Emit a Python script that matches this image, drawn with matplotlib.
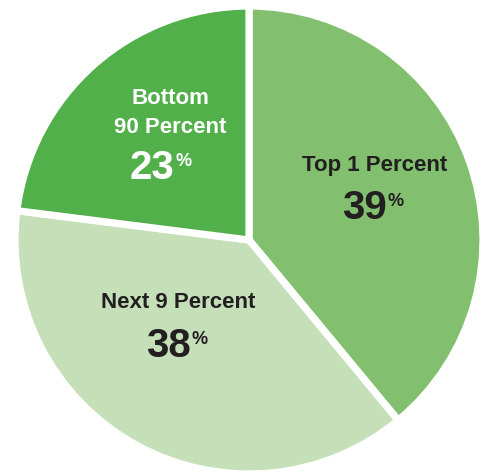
import matplotlib.pyplot as plt

# data
labels = ['Top 1 Percent', 'Next 9 Percent', 'Bottom\n90 Percent']
shares = [39, 38, 23]
colors = ['#82c06f', '#c5e0b9', '#52b04a']
text_colors = ['#231f20', '#231f20', 'white']

W, H = 483, 472
fig = plt.figure(figsize=(W / 100, H / 100), dpi=100)
ax = fig.add_axes([0, 0, 1, 1])

cx, cy, r = 249, H - 240, 234
ax.pie(shares, colors=colors, startangle=90, counterclock=False,
       center=(cx, cy), radius=r, frame=True,
       wedgeprops=dict(edgecolor='white', linewidth=5.2))
ax.set_xlim(0, W)
ax.set_ylim(0, H)
ax.set_aspect('equal')
ax.axis('off')

# label positions (pixels from top-left)
label_pos = [(375, 165), (178, 302), (170, 113)]
num_pos = [(364, 208), (168, 346), (152, 168)]

name_font = ['Liberation Sans Narrow', 'Liberation Sans', 'DejaVu Sans']
num_font = ['Liberation Sans', 'DejaVu Sans']

for lab, val, tc, (lx, ly), (nx, ny) in zip(labels, shares, text_colors, label_pos, num_pos):
    ax.text(lx, H - ly, lab, ha='center', va='center', fontsize=16,
            fontweight='bold', color=tc, family=name_font, linespacing=1.45)
    t = ax.text(nx, H - ny, str(val), ha='center', va='center', fontsize=29,
                fontweight='bold', color=tc, family=num_font)
    ax.annotate('%', xy=(1, 1), xycoords=t, xytext=(0.5, -3), textcoords='offset points',
                ha='left', va='top', fontsize=13, fontweight='bold', color=tc,
                family=num_font)

plt.savefig('out.png', dpi=100)
